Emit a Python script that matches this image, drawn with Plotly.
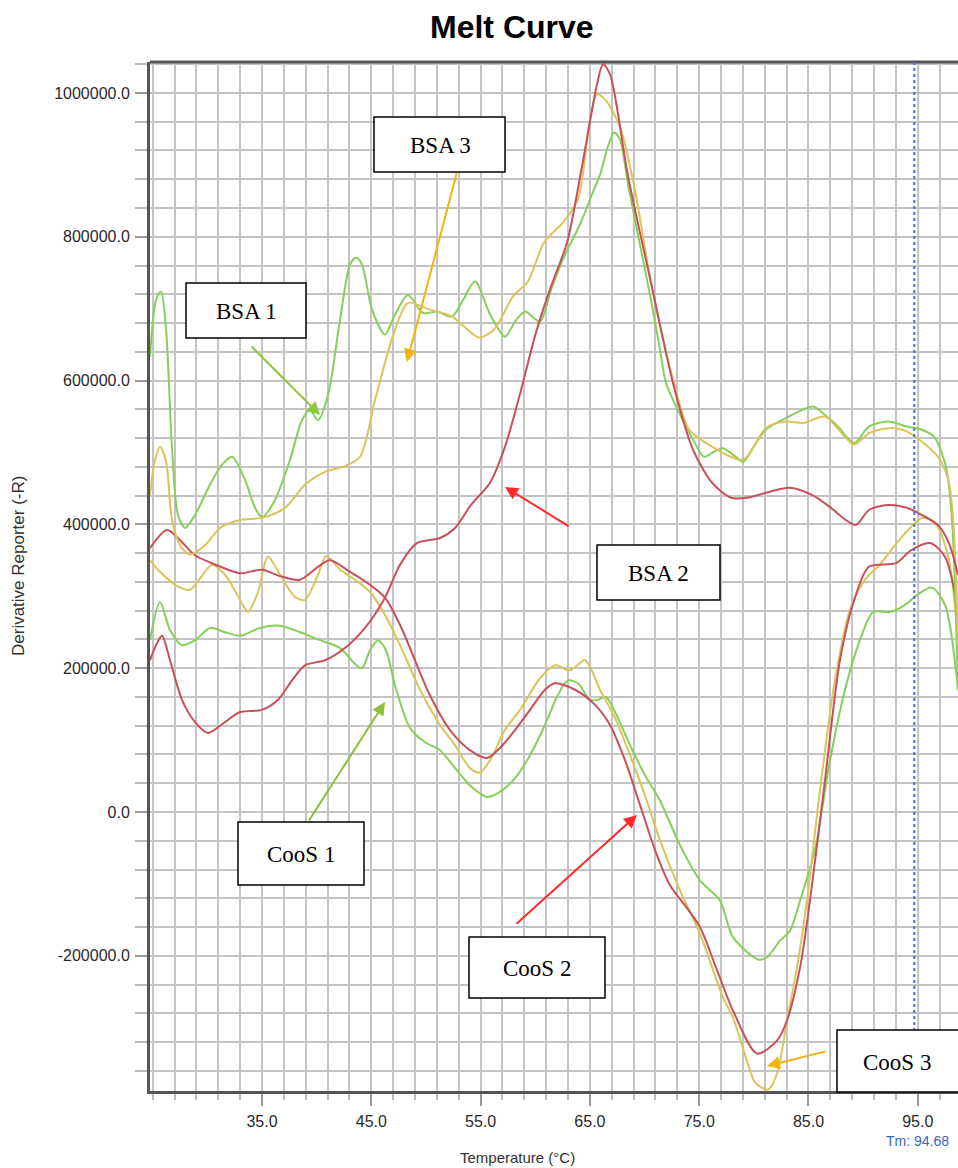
import plotly.graph_objects as go

# ---------------- data (temperature in °C, derivative reporter -R) ----------------
bsa1_t = [24.75, 25.30, 25.76, 26.22, 26.77, 27.31, 27.96, 28.87, 30.24, 31.34, 32.26, 33.44, 34.36, 35.00,
          36.19, 37.56, 38.66, 39.39, 40.12, 41.04, 42.14, 43.05, 43.60, 44.15, 45.06, 46.25, 47.17, 48.36,
          49.73, 51.01, 52.38, 53.39, 54.49, 55.86, 57.23, 58.15, 59.06, 60.43, 61.44, 62.72, 64.09, 65.19,
          65.92, 66.56, 67.21, 67.75, 68.49, 69.58, 70.59, 71.41, 71.96, 73.33, 74.43, 75.44, 76.35, 77.18,
          78.09, 79.01, 80.11, 81.11, 83.22, 85.41, 86.51, 87.70, 89.16, 90.53, 92.27, 94.01, 95.29, 96.48,
          97.58, 98.13, 98.68]
bsa1_v = [633000, 712000, 724000, 671000, 504000, 413000, 395000, 413000, 455000, 483000, 494000, 462000,
          423000, 410000, 434000, 490000, 545000, 559000, 545000, 580000, 685000, 761000, 771000, 761000,
          699000, 664000, 692000, 719000, 694000, 696000, 689000, 712000, 738000, 692000, 661000, 682000,
          696000, 682000, 726000, 775000, 817000, 859000, 886000, 921000, 945000, 935000, 873000, 789000,
          712000, 643000, 597000, 550000, 518000, 494000, 501000, 506000, 497000, 487000, 511000, 532000,
          550000, 564000, 552000, 536000, 513000, 536000, 543000, 536000, 532000, 522000, 480000, 406000,
          170000]

bsa2_t = [24.75, 25.30, 25.85, 26.58, 27.68, 28.87, 30.06, 31.34, 32.99, 35.00, 36.46, 37.74, 38.93, 40.76,
          42.59, 44.42, 46.25, 47.63, 49.18, 51.29, 52.66, 54.12, 55.86, 57.23, 58.70, 60.07, 61.44, 62.91,
          64.28, 65.65, 66.20, 66.84, 68.49, 70.59, 72.69, 74.43, 76.17, 77.91, 79.37, 81.11, 83.22, 85.32,
          87.06, 88.43, 89.35, 90.53, 92.27, 94.01, 95.38, 96.85, 97.85, 98.68]
bsa2_v = [211000, 232000, 245000, 211000, 156000, 125000, 110000, 122000, 139000, 142000, 156000, 183000,
          204000, 211000, 228000, 256000, 298000, 344000, 374000, 381000, 395000, 427000, 458000, 508000,
          587000, 667000, 731000, 792000, 898000, 1012000, 1040000, 1026000, 884000, 736000, 591000, 504000,
          458000, 437000, 437000, 444000, 451000, 441000, 423000, 406000, 399000, 420000, 427000, 423000,
          413000, 399000, 374000, 330000]

bsa3_t = [24.75, 25.21, 25.67, 26.22, 26.77, 27.50, 28.41, 29.79, 31.16, 32.99, 35.00, 37.10, 38.93, 40.76,
          42.59, 43.97, 45.34, 47.08, 48.36, 50.28, 52.38, 54.85, 56.23, 57.96, 59.34, 60.80, 62.54, 63.91,
          65.01, 65.65, 66.38, 67.75, 69.12, 70.59, 72.69, 74.07, 76.17, 79.01, 81.11, 82.85, 84.59, 86.51,
          89.16, 90.53, 92.64, 94.01, 95.38, 96.85, 97.85, 98.68]
bsa3_v = [441000, 490000, 508000, 487000, 406000, 371000, 358000, 371000, 395000, 406000, 409000, 423000,
          455000, 473000, 481000, 494000, 573000, 667000, 708000, 699000, 689000, 660000, 671000, 717000,
          738000, 792000, 820000, 852000, 963000, 998000, 991000, 953000, 865000, 736000, 597000, 532000,
          508000, 490000, 534000, 543000, 541000, 550000, 511000, 527000, 534000, 529000, 515000, 494000,
          458000, 239000]

coos1_t = [24.75, 25.67, 26.58, 27.68, 28.87, 30.24, 31.61, 32.99, 34.82, 36.65, 38.48, 40.31, 42.14,
           43.51, 44.15, 44.88, 45.61, 46.34, 47.17, 48.54, 49.91, 51.29, 52.66, 54.03, 55.59, 56.77, 58.15,
           59.52, 60.89, 62.08, 62.99, 63.91, 65.01, 65.74, 66.47, 67.30, 68.67, 70.04, 71.41, 73.24, 75.07,
           76.90, 78.09, 80.38, 81.20, 82.39, 83.31, 84.23, 85.59, 86.97, 88.34, 89.71, 90.90, 92.46, 93.83,
           95.02, 96.30, 97.49, 98.68]
coos1_v = [239000, 292000, 253000, 232000, 239000, 256000, 250000, 245000, 256000, 259000, 250000, 239000,
           228000, 206000, 200000, 225000, 239000, 225000, 176000, 117000, 97000, 86000, 61000,
           37000, 21000, 28000, 47000, 79000, 121000, 163000, 183000, 179000, 156000, 156000, 160000,
           139000, 93000, 51000, 16000, -46000, -95000, -123000, -174000, -205000, -202000, -179000,
           -165000, -123000, -53000, 72000, 170000, 239000, 278000, 278000, 288000, 303000, 312000,
           288000, 170000]

coos2_t = [24.75, 26.31, 27.50, 28.87, 30.43, 32.99, 35.00, 36.65, 38.48, 40.12, 41.22, 43.05, 44.88, 46.25,
           47.63, 49.00, 50.37, 52.20, 54.03, 55.59, 56.77, 58.15, 59.52, 60.89, 61.81, 63.64, 65.47, 66.84,
           68.21, 69.58, 70.96, 72.33, 73.70, 75.07, 76.63, 78.09, 80.29, 82.12, 83.03, 84.23, 85.14, 86.51,
           87.88, 89.25, 90.53, 93.01, 94.38, 96.12, 97.49, 98.68]
coos2_v = [367000, 392000, 378000, 357000, 346000, 332000, 337000, 328000, 323000, 341000, 350000, 334000,
           316000, 298000, 260000, 211000, 162000, 114000, 86000, 75000, 89000, 114000, 142000, 170000,
           179000, 170000, 149000, 121000, 72000, 10000, -53000, -102000, -130000, -160000, -220000,
           -276000, -336000, -318000, -290000, -216000, -123000, 44000, 211000, 298000, 341000, 346000,
           364000, 374000, 355000, 281000]

coos3_t = [24.75, 25.67, 27.04, 28.41, 29.33, 30.43, 31.61, 32.99, 33.72, 34.63, 35.55, 36.65, 38.02, 38.93,
           40.12, 40.86, 42.14, 43.51, 44.88, 46.25, 47.63, 49.46, 51.29, 52.66, 54.03, 54.95, 55.86, 57.23,
           58.60, 60.43, 61.81, 63.18, 64.55, 65.92, 67.30, 68.67, 70.04, 71.41, 73.24, 75.07, 77.18, 78.09,
           79.37, 80.11, 81.29, 82.12, 83.03, 83.95, 84.86, 86.05, 87.42, 88.80, 90.17, 91.54, 92.91, 94.29,
           95.38, 96.57, 97.76, 98.68]
coos3_v = [350000, 334000, 316000, 309000, 325000, 344000, 330000, 295000, 278000, 306000, 355000, 330000,
           299000, 295000, 330000, 356000, 337000, 323000, 306000, 274000, 232000, 170000, 121000, 93000,
           61000, 55000, 72000, 114000, 142000, 186000, 204000, 197000, 211000, 170000, 131000, 79000,
           23000, -39000, -109000, -169000, -258000, -286000, -346000, -376000, -386000, -364000, -290000,
           -216000, -123000, 30000, 183000, 281000, 323000, 344000, 371000, 395000, 409000, 402000,
           357000, 239000]

x_ticks = [35, 45, 55, 65, 75, 85, 95]
y_ticks = [-200000, 0, 200000, 400000, 600000, 800000, 1000000]
tm_value = 94.68

GREEN = "#86cf5a"
YELLOW = "#d9c55a"
RED = "#c8505a"
GRID = "#c4c4c4"

# ---------------- figure ----------------
W, H = 958, 1168
L, R, T, B = 150, 0, 62, 77
PW, PH = W - L - R, H - T - B


def px(x):
    return (x - L) / PW


def py(y):
    return (H - B - y) / PH


fig = go.Figure()
series = [
    ("CooS 1", coos1_t, coos1_v, GREEN),
    ("CooS 3", coos3_t, coos3_v, YELLOW),
    ("CooS 2", coos2_t, coos2_v, RED),
    ("BSA 1", bsa1_t, bsa1_v, GREEN),
    ("BSA 3", bsa3_t, bsa3_v, YELLOW),
    ("BSA 2", bsa2_t, bsa2_v, RED),
]
for name, t, v, c in series:
    fig.add_trace(go.Scatter(x=t, y=v, mode="lines", name=name,
                             line=dict(color=c, width=2, shape="spline", smoothing=0.8),
                             showlegend=False))

SANS = "Liberation Sans, Arial, sans-serif"
tickfont = dict(family=SANS, size=16, color="#2a2a2a")

fig.update_layout(
    width=W, height=H,
    margin=dict(l=L, r=R, t=T, b=B),
    paper_bgcolor="white", plot_bgcolor="white",
    xaxis=dict(range=[24.75, 98.68], tickmode="array", tickvals=x_ticks,
               ticktext=[f"{v:.1f}" for v in x_ticks],
               ticks="outside", ticklen=12, tickwidth=1.5, tickcolor="#999999",
               showgrid=True, gridcolor=GRID, gridwidth=1.8,
               minor=dict(tickmode="linear", tick0=25, dtick=2, showgrid=True, gridcolor=GRID,
                          gridwidth=1.8, ticks="outside", ticklen=6, tickcolor="#bbbbbb"),
               showline=True, linecolor="#555555", linewidth=3, zeroline=False,
               tickfont=tickfont, ticklabelstandoff=2),
    yaxis=dict(range=[-388000, 1043000], tickmode="array", tickvals=y_ticks,
               ticktext=[f"{v:.1f}" for v in y_ticks],
               ticks="outside", ticklen=12, tickwidth=1.5, tickcolor="#999999",
               showgrid=True, gridcolor=GRID, gridwidth=1.8,
               minor=dict(tickmode="linear", tick0=0, dtick=40000, showgrid=True, gridcolor=GRID,
                          gridwidth=1.8, ticks="outside", ticklen=12, tickcolor="#bbbbbb"),
               showline=True, linecolor="#555555", linewidth=3, zeroline=False,
               tickfont=tickfont, ticklabelstandoff=2),
)

shapes = [
    dict(type="line", xref="paper", yref="paper", x0=0, x1=1, y0=1, y1=1,
         line=dict(color="#555555", width=3), layer="above"),
    dict(type="line", xref="x", yref="paper", x0=tm_value, x1=tm_value, y0=0, y1=1,
         line=dict(color="#4a6bd0", width=2, dash="dot"), layer="above"),
]

boxes = [
    ("BSA 3", 374, 117, 505, 172, 440),
    ("BSA 1", 186, 283, 306, 338, 246),
    ("BSA 2", 597, 545, 720, 600, 658),
    ("CooS 1", 238, 822, 364, 885, 301),
    ("CooS 2", 469, 937, 605, 998, 537),
    ("CooS 3", 837, 1030, 975, 1092, 897),
]
annotations = []
for label, x0, y0, x1, y1, cx in boxes:
    shapes.append(dict(type="rect", xref="paper", yref="paper", x0=px(x0), x1=px(x1),
                       y0=py(y1), y1=py(y0), fillcolor="white",
                       line=dict(color="black", width=1.5), layer="above"))
    annotations.append(dict(x=px(cx), y=py((y0 + y1) / 2 + 1), xref="paper", yref="paper",
                            xanchor="center", yanchor="middle",
                            text=label, showarrow=False,
                            font=dict(family="Liberation Serif, Times New Roman, serif",
                                      size=23, color="black")))

arrows = [
    (407, 362, 457, 172, "#f5b20a"),
    (320, 415, 250, 345, "#8cc63e"),
    (505, 487, 570, 527, "#ff2a2a"),
    (385, 702, 308, 822, "#8cbf3e"),
    (637, 815, 515, 925, "#ff2a2a"),
    (767, 1066, 827, 1051, "#f5b20a"),
]
for tx, ty, sx, sy, c in arrows:
    annotations.append(dict(x=px(tx), y=py(ty), xref="paper", yref="paper", text="",
                            showarrow=True, ax=sx - tx, ay=sy - ty, arrowcolor=c,
                            arrowwidth=2, arrowhead=2, arrowsize=1.3))

annotations += [
    dict(x=px(512), y=py(27), xref="paper", yref="paper", xanchor="center", yanchor="middle",
         text="<b>Melt Curve</b>", showarrow=False,
         font=dict(family=SANS, size=32, color="black")),
    dict(x=px(18), y=py(566), xref="paper", yref="paper", xanchor="center", yanchor="middle",
         text="Derivative Reporter (-R)", textangle=-90, showarrow=False,
         font=dict(family=SANS, size=17, color="#333333")),
    dict(x=px(517), y=py(1157), xref="paper", yref="paper", xanchor="center", yanchor="middle",
         text="Temperature (°C)", showarrow=False,
         font=dict(family=SANS, size=15, color="#333333")),
    dict(x=px(917), y=py(1141), xref="paper", yref="paper", xanchor="center", yanchor="middle",
         text="Tm: 94.68", showarrow=False,
         font=dict(family=SANS, size=14, color="#3a66c0")),
]

fig.update_layout(shapes=shapes, annotations=annotations)
fig.write_html("out.html")
